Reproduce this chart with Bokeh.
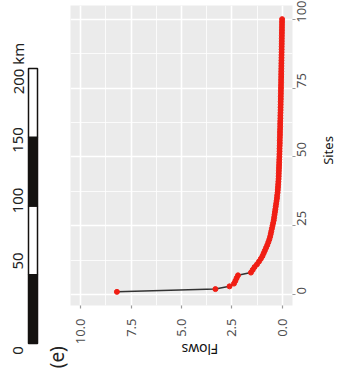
import math
from bokeh.plotting import figure
from bokeh.layouts import row, column
from bokeh.models import Range1d, FixedTicker, PrintfTickFormatter
from bokeh.core.properties import value
from bokeh.embed import file_html
from bokeh.resources import INLINE

# ---- data ----
sites = list(range(1, 101))
flows = [
    8.20, 3.32, 2.62, 2.40, 2.33, 2.27, 2.20, 1.56, 1.47, 1.38,
    1.26, 1.16, 1.07, 0.99, 0.93, 0.87, 0.81, 0.75, 0.70, 0.65,
    0.61, 0.58, 0.55, 0.52, 0.49, 0.46, 0.43, 0.41, 0.39, 0.37,
    0.35, 0.33, 0.31, 0.29, 0.27, 0.26, 0.24, 0.23, 0.22, 0.21,
    0.20, 0.19, 0.185, 0.18, 0.175, 0.17, 0.165, 0.16, 0.155, 0.15,
    0.145, 0.14, 0.14, 0.135, 0.13, 0.13, 0.125, 0.12, 0.12, 0.115,
    0.11, 0.11, 0.105, 0.10, 0.10, 0.095, 0.09, 0.09, 0.085, 0.085,
    0.08, 0.08, 0.075, 0.075, 0.07, 0.07, 0.065, 0.065, 0.06, 0.06,
    0.058, 0.055, 0.052, 0.05, 0.048, 0.045, 0.043, 0.04, 0.038, 0.036,
    0.034, 0.032, 0.03, 0.028, 0.026, 0.024, 0.022, 0.02, 0.018, 0.015,
]
flow_ticks = [0, 2.5, 5, 7.5, 10]
flow_minor = [1.25, 3.75, 6.25, 8.75]
site_ticks = [0, 25, 50, 75, 100]
site_minor = [12.5, 37.5, 62.5, 87.5]
scale_km = [0, 50, 100, 150, 200]
scale_labels = ["0", "50", "100", "150", "200 km"]
panel_tag = "(e)"
x_title = "Flows"
y_title = "Sites"

FONT = "Noto Sans"
H = 380


def strip(width, x0, y_range):
    f = figure(width=width, height=H, x_range=Range1d(x0, x0 + width), y_range=y_range,
               output_backend="svg", toolbar_location=None, min_border=0)
    f.axis.visible = False
    f.grid.visible = False
    f.outline_line_color = None
    f.background_fill_color = "white"
    f.border_fill_color = "white"
    return f


# ---- scale bar (left strip): x in px across, y in km along the bar ----
sb = strip(70, 0, Range1d((343 - H) / 1.375, 343 / 1.375))
seg_bottom = scale_km[:-1]
seg_top = scale_km[1:]
seg_colors = ["#141210" if i % 2 == 0 else "white" for i in range(len(seg_bottom))]
sb.quad(left=28, right=37, bottom=seg_bottom, top=seg_top, fill_color=seg_colors,
        line_color="#141210", line_width=1.5)
label_shift = [-5, 10, 4, -2, 0]
label_pos = [k + s for k, s in zip(scale_km, label_shift)]
sb.text(x=17, y=label_pos, text=scale_labels, angle=math.pi / 2, text_align="center",
        text_baseline="middle", text_font=value(FONT), text_font_size="15px", text_color="#222222")
sb.text(x=[56], y=[-10], text=[panel_tag], angle=math.pi / 2, text_align="center",
        text_baseline="middle", text_font=value(FONT), text_font_size="19px", text_color="#222222")

# ---- main chart ----
p = figure(width=248, height=H, x_range=Range1d(10.5, -0.5), y_range=Range1d(-3.95, 104.95),
           y_axis_location="right", output_backend="svg", toolbar_location=None,
           min_border_left=0, min_border_top=5, min_border_right=26, min_border_bottom=75)
p.background_fill_color = "#EBEBEB"
p.border_fill_color = "white"
p.outline_line_color = None

xt = FixedTicker(ticks=flow_ticks, minor_ticks=flow_minor)
yt = FixedTicker(ticks=site_ticks, minor_ticks=site_minor)
xa = p.xaxis[0]
ya = p.yaxis[0]
xa.ticker = xt
ya.ticker = yt
p.xgrid.ticker = xt
p.ygrid.ticker = yt
for g in (p.xgrid[0], p.ygrid[0]):
    g.grid_line_color = "white"
    g.grid_line_width = 1.6
    g.minor_grid_line_color = "white"
    g.minor_grid_line_width = 0.8

xa.formatter = PrintfTickFormatter(format="%.1f")
for a in (xa, ya):
    a.axis_line_color = None
    a.major_tick_line_color = "#9a9a9a"
    a.major_tick_line_width = 1.2
    a.major_tick_in = 0
    a.major_tick_out = 3
    a.minor_tick_line_color = None
    a.major_label_orientation = math.pi / 2
    a.major_label_text_font = FONT
    a.major_label_text_font_size = "13px"
    a.major_label_text_color = "#4D4D4D"
xa.major_label_standoff = 9
ya.major_label_standoff = 5
xa.axis_label = x_title
xa.axis_label_text_font = FONT
xa.axis_label_text_font_size = "14px"
xa.axis_label_text_font_style = "normal"
xa.axis_label_text_color = "#111111"
xa.axis_label_standoff = 2
xa.axis_label_orientation = math.pi

p.line(x=flows, y=sites, line_color="#333333", line_width=1.5)
p.scatter(x=flows, y=sites, size=5, fill_color="#F01E14", line_color="#F01E14")

# ---- right strip carrying the y-axis title (x, y in page px) ----
rt = strip(18, 318, Range1d(H, 0))
rt.text(x=[327], y=[150], text=[y_title], angle=math.pi / 2, text_align="center",
        text_baseline="middle", text_font=value(FONT), text_font_size="13px",
        text_color="#111111")

layout = row(column(sb), p, column(rt))
open("out.html", "w").write(file_html(layout, INLINE))
